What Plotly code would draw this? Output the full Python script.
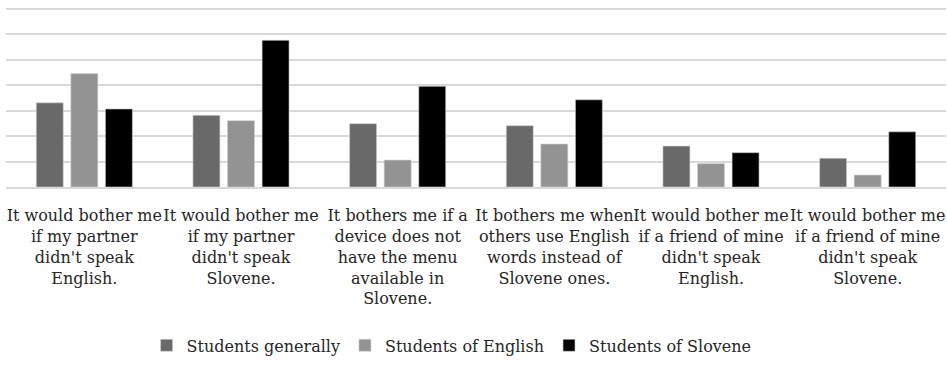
import plotly.graph_objects as go

categories = [
    "It would bother me<br>if my partner<br>didn't speak<br>English.",
    "It would bother me<br>if my partner<br>didn't speak<br>Slovene.",
    "It bothers me if a<br>device does not<br>have the menu<br>available in<br>Slovene.",
    "It bothers me when<br>others use English<br>words instead of<br>Slovene ones.",
    "It would bother me<br>if a friend of mine<br>didn't speak<br>English.",
    "It would bother me<br>if a friend of mine<br>didn't speak<br>Slovene.",
]

students_generally = [33.1, 28.2, 24.9, 24.1, 16.1, 11.3]
students_english = [44.6, 26.1, 10.6, 16.9, 9.2, 4.7]
students_slovene = [30.7, 57.7, 39.6, 34.3, 13.5, 21.7]

series = [
    ("Students generally", students_generally, "#696969"),
    ("Students of English", students_english, "#939393"),
    ("Students of Slovene", students_slovene, "#000000"),
]

SERIF = "DejaVu Serif"

fig = go.Figure()
for name, values, color in series:
    fig.add_trace(go.Bar(
        name=name,
        x=categories,
        y=values,
        marker=dict(color=color, line=dict(color="#d0d0d0", width=0.6)),
    ))

fig.update_layout(
    width=947,
    height=376,
    margin=dict(l=6, r=1, t=7, b=189),
    paper_bgcolor="white",
    plot_bgcolor="white",
    barmode="group",
    bargap=0.338,
    bargroupgap=0.22,
    font=dict(family=SERIF, size=16, color="#262626"),
    showlegend=True,
    legend=dict(
        orientation="h",
        x=0.474,
        xanchor="center",
        y=-0.88,
        yanchor="middle",
        font=dict(family=SERIF, size=16),
        itemwidth=30,
    ),
    xaxis=dict(
        showgrid=False,
        showline=True,
        linecolor="#d9d9d9",
        linewidth=2,
        tickangle=0,
        ticks="",
        ticklabelstandoff=13,
        tickfont=dict(family=SERIF, size=16),
    ),
    yaxis=dict(
        range=[0, 70.8],
        tickvals=[0, 10, 20, 30, 40, 50, 60, 70],
        showgrid=True,
        gridcolor="#d9d9d9",
        gridwidth=2,
        showticklabels=False,
        zeroline=False,
        fixedrange=True,
    ),
)

fig.write_html("out.html")
